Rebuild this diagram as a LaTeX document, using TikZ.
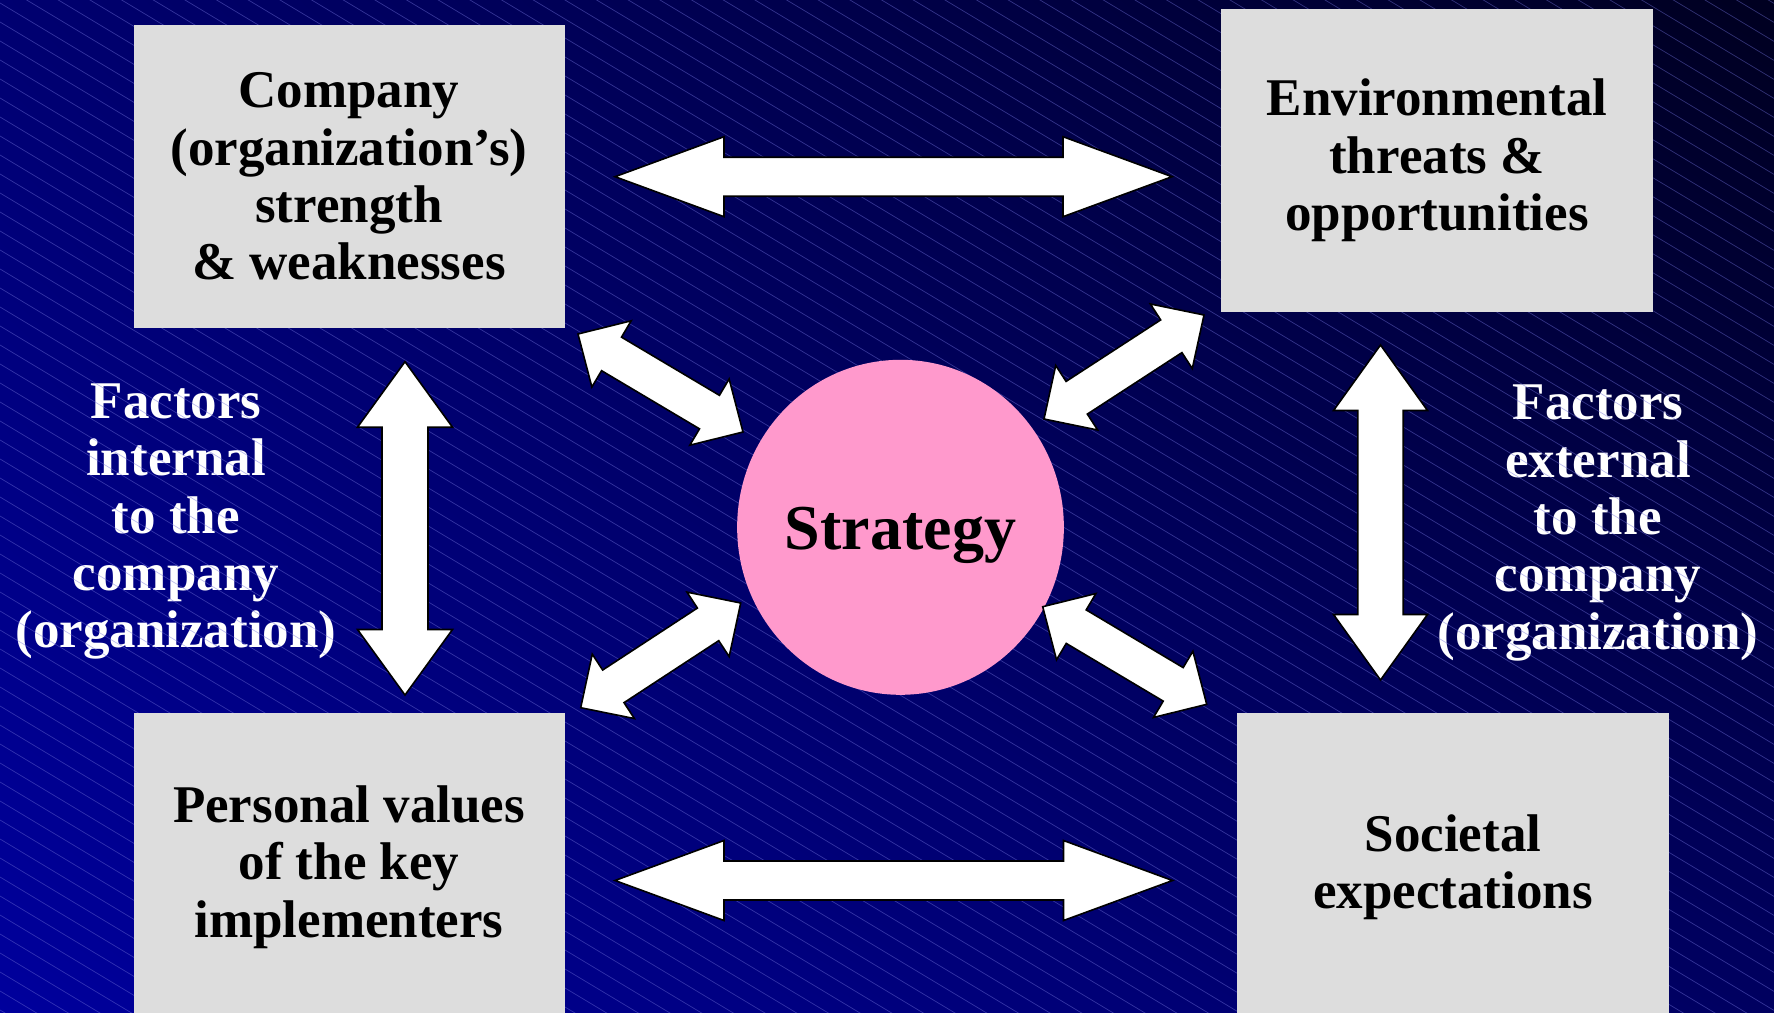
\documentclass[tikz,border=0pt]{standalone}
\usepackage{fontspec}
\setmainfont{Liberation Serif}
\usetikzlibrary{calc,shapes.geometric,shadings}

\definecolor{bgUL}{HTML}{000070}
\definecolor{bgUR}{HTML}{000020}
\definecolor{bgLL}{HTML}{00009C}
\definecolor{bgLR}{HTML}{000060}
\definecolor{hatchblue}{HTML}{7070D8}
\definecolor{panelgray}{HTML}{DDDDDD}
\definecolor{stratpink}{HTML}{FF99CC}

\newcommand{\lblfont}{\fontsize{53}{57.3}\selectfont\bfseries}

% double-headed block arrow between two tips:
% #1,#2 tips, #3 head length, #4 head half width, #5 shaft half width
\newcommand{\dblarrow}[5]{%
  \filldraw[arrowbody] (#1)
    -- ($(#1)!#3!(#2)!#4!90:(#2)$)
    -- ($(#1)!#3!(#2)!#5!90:(#2)$)
    -- ($(#2)!#3!(#1)!#5!-90:(#1)$)
    -- ($(#2)!#3!(#1)!#4!-90:(#1)$)
    -- (#2)
    -- ($(#2)!#3!(#1)!#4!90:(#1)$)
    -- ($(#2)!#3!(#1)!#5!90:(#1)$)
    -- ($(#1)!#3!(#2)!#5!-90:(#2)$)
    -- ($(#1)!#3!(#2)!#4!-90:(#2)$)
    -- cycle;}

\begin{document}
\begin{tikzpicture}[x=1pt,y=-1pt,
  panel/.style={fill=panelgray, draw=none, minimum width=431pt,
    inner sep=0pt, align=center, text=black, font=\lblfont},
  sidetext/.style={inner sep=0pt, align=center, text=white, font=\lblfont},
  hatch/.style={draw=hatchblue, draw opacity=0.45, line width=0.7pt},
  arrowbody/.style={fill=white, draw=black, line width=1.6pt, line join=miter}]

\useasboundingbox (0,0) rectangle (1774,1012);

% background
\shade[upper left=bgUL, upper right=bgUR, lower left=bgLL, lower right=bgLR]
  (0,0) rectangle (1774,1012);

% side captions
\node[sidetext] (internal) at (176,521.6)
  {Factors\\internal\\to the\\company\\(organization)};
\node[sidetext] (external) at (1598,523)
  {Factors\\external\\to the\\company\\(organization)};

% diagonal hatching
\begin{scope}
  \clip (0,0) rectangle (1774,1012);
  \foreach \c in {-1080,-1061,...,1012}
    \draw[hatch] (0,\c) -- (1774,\c+1064.4);
\end{scope}

% the four panels
\node[panel, minimum height=303pt] (strengths) at (349,176.5)
  {Company\\(organization’s)\\strength\\\& weaknesses};
\node[panel, minimum width=432pt, minimum height=303pt] (environment) at (1437,160.5)
  {Environmental\\threats \&\\opportunities};
\node[panel, minimum height=308pt] (values) at (349,867)
  {Personal values\\of the key\\implementers};
\node[panel, minimum width=432pt, minimum height=308pt] (society) at (1453,867)
  {Societal\\expectations};

% centre
\node[ellipse, fill=stratpink, minimum width=319pt, minimum height=335pt,
  inner sep=0pt, text=black, font=\fontsize{64}{70}\selectfont\bfseries,
  text height=45pt, text depth=0pt] (strategy) at (900.5,527.3) {Strategy};

% arrow tips
\coordinate (topL) at (615,176.7);
\coordinate (topR) at (1172,176.7);
\coordinate (botL) at (615,880.5);
\coordinate (botR) at (1172.5,880.5);
\coordinate (leftT) at (405,361.7);
\coordinate (leftB) at (405,695);
\coordinate (rightT) at (1380.5,345);
\coordinate (rightB) at (1380.5,680);
\coordinate (ulA) at (578,334);
\coordinate (ulB) at (743,432);
\coordinate (urA) at (1204,315);
\coordinate (urB) at (1044,419);
\coordinate (llA) at (740.7,603);
\coordinate (llB) at (580.7,707.7);
\coordinate (lrA) at (1042.7,606.7);
\coordinate (lrB) at (1206.7,704.3);

% arrows
\dblarrow{topL}{topR}{109pt}{40pt}{19.5pt}
\dblarrow{botL}{botR}{109pt}{40pt}{19.5pt}
\dblarrow{leftT}{leftB}{65.5pt}{47.5pt}{23pt}
\dblarrow{rightT}{rightB}{65.5pt}{47pt}{22.7pt}
\dblarrow{ulA}{ulB}{39pt}{38.5pt}{19.5pt}
\dblarrow{urA}{urB}{39pt}{38.5pt}{19.5pt}
\dblarrow{llA}{llB}{39pt}{38.5pt}{19.5pt}
\dblarrow{lrA}{lrB}{39pt}{38.5pt}{19.5pt}

\end{tikzpicture}
\end{document}
